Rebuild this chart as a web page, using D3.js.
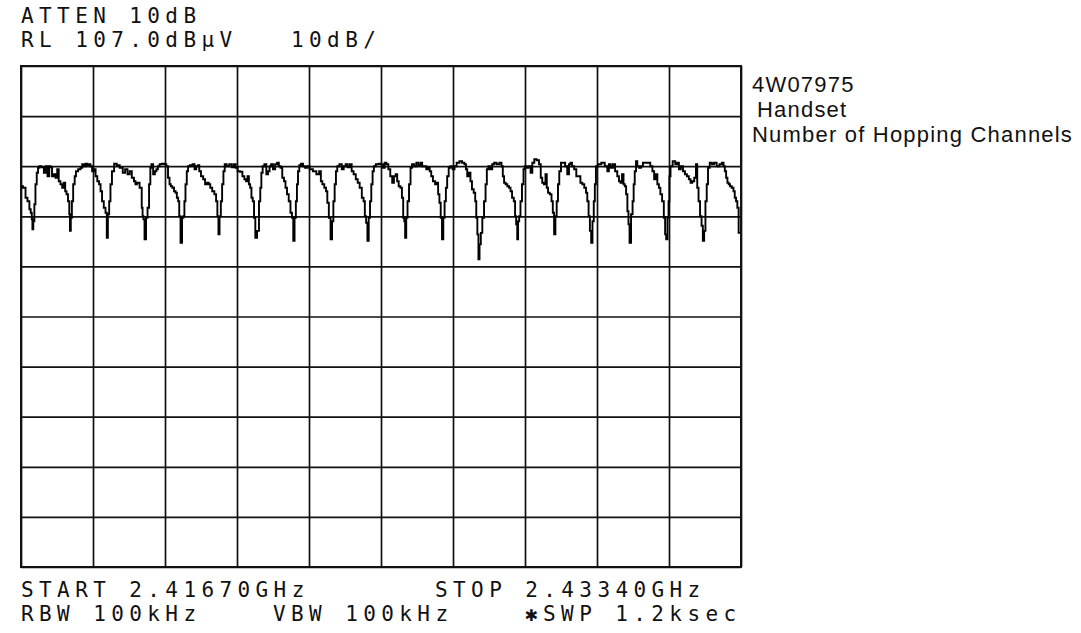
<!DOCTYPE html>
<html>
<head>
<meta charset="utf-8">
<script src="https://cdn.jsdelivr.net/npm/d3@7"></script>
<style>
  html, body { margin: 0; padding: 0; background: #fff; }
  svg { display: block; }
  .hp { font-family: "DejaVu Sans Mono", "Liberation Mono", monospace; font-size: 21px; fill: #111; letter-spacing: 5.4px; }
  .note { font-family: "Liberation Sans", Arial, sans-serif; font-size: 22px; fill: #111; letter-spacing: 1.2px; }
</style>
</head>
<body>
<script>
// Analyzer settings
const START_MHZ = 2416.7;
const STOP_MHZ = 2433.4;
const REF_LEVEL_DBUV = 107;
const DB_PER_DIV = 10;
const DIVISIONS = 10;

// Screen annotations
const headerTexts = ["ATTEN 10dB", "RL 107.0dBµV", "10dB/"];
const footerTexts = ["START 2.41670GHz", "STOP 2.43340GHz", "RBW 100kHz", "VBW 100kHz", "✱SWP 1.2ksec"];
const noteTexts = ["4W07975", "Handset", "Number of Hopping Channels"];

// Max-hold trace: [frequency MHz, level dBµV]
const trace = [
  [2416.70,83.0],[2416.79,82.7],[2416.82,80.7],[2416.88,80.0],[2416.91,78.4],[2416.94,77.7],[2416.96,76.4],[2416.97,74.4],
  [2417.00,76.0],[2417.02,79.4],[2417.05,83.4],[2417.08,85.7],[2417.11,86.7],[2417.14,87.0],[2417.21,86.8],[2417.25,85.7],
  [2417.29,87.0],[2417.34,85.0],[2417.37,87.0],[2417.40,86.8],[2417.44,85.0],[2417.48,85.4],[2417.52,84.7],[2417.56,86.4],
  [2417.59,84.0],[2417.64,83.4],[2417.67,82.7],[2417.71,83.7],[2417.74,82.0],[2417.77,81.4],[2417.81,80.0],[2417.83,77.4],
  [2417.84,74.1],[2417.87,76.7],[2417.89,80.0],[2417.93,83.4],[2417.96,85.0],[2417.99,86.0],[2418.06,86.4],[2418.10,86.7],
  [2418.14,87.4],[2418.18,87.0],[2418.22,87.5],[2418.25,87.2],[2418.29,87.4],[2418.33,87.0],[2418.37,86.0],[2418.41,86.4],
  [2418.45,85.0],[2418.49,84.0],[2418.53,83.4],[2418.56,82.0],[2418.60,80.0],[2418.64,78.7],[2418.68,77.7],[2418.70,72.7],
  [2418.73,77.4],[2418.76,80.0],[2418.79,83.4],[2418.83,86.0],[2418.89,87.5],[2418.95,87.2],[2419.03,86.7],[2419.09,85.7],
  [2419.14,86.4],[2419.20,85.4],[2419.24,86.0],[2419.30,84.7],[2419.34,84.0],[2419.37,83.4],[2419.41,83.7],[2419.49,82.7],
  [2419.51,78.7],[2419.53,77.0],[2419.55,76.4],[2419.58,72.4],[2419.62,76.7],[2419.65,78.7],[2419.69,83.4],[2419.71,86.7],
  [2419.74,87.4],[2419.79,85.4],[2419.82,86.0],[2419.86,86.4],[2419.89,87.0],[2419.94,87.4],[2419.99,87.5],[2420.05,87.4],
  [2420.09,87.0],[2420.13,84.7],[2420.16,83.4],[2420.19,83.0],[2420.23,82.7],[2420.27,82.0],[2420.30,81.7],[2420.33,80.7],
  [2420.36,80.0],[2420.38,77.0],[2420.42,71.7],[2420.45,76.7],[2420.48,77.0],[2420.50,80.0],[2420.53,83.4],[2420.56,86.0],
  [2420.59,87.0],[2420.65,87.2],[2420.71,87.4],[2420.74,86.4],[2420.79,87.0],[2420.82,87.2],[2420.85,86.0],[2420.90,85.0],
  [2420.95,84.4],[2420.99,83.4],[2421.04,83.7],[2421.07,83.4],[2421.11,82.7],[2421.16,82.0],[2421.21,81.4],[2421.24,80.0],
  [2421.27,77.0],[2421.29,73.4],[2421.32,77.0],[2421.35,80.0],[2421.38,83.4],[2421.41,86.0],[2421.44,87.4],[2421.50,87.0],
  [2421.56,87.4],[2421.62,86.8],[2421.66,87.4],[2421.70,86.7],[2421.75,86.0],[2421.81,85.9],[2421.86,85.0],[2421.90,84.4],
  [2421.94,84.0],[2421.97,85.0],[2422.00,83.4],[2422.03,82.7],[2422.06,80.7],[2422.09,80.0],[2422.12,76.7],[2422.15,72.7],
  [2422.20,74.1],[2422.24,80.0],[2422.26,82.7],[2422.29,85.7],[2422.32,87.0],[2422.37,87.4],[2422.41,85.4],[2422.45,86.0],
  [2422.48,87.0],[2422.52,87.4],[2422.57,86.4],[2422.62,87.4],[2422.66,87.7],[2422.70,87.0],[2422.74,86.7],[2422.78,84.7],
  [2422.82,84.0],[2422.85,82.7],[2422.89,81.4],[2422.93,80.0],[2422.97,77.7],[2423.00,76.7],[2423.03,72.1],[2423.06,76.7],
  [2423.09,80.0],[2423.11,83.4],[2423.14,86.0],[2423.17,87.2],[2423.22,87.5],[2423.26,87.0],[2423.32,86.7],[2423.36,87.0],
  [2423.43,86.4],[2423.51,86.0],[2423.59,85.4],[2423.64,86.0],[2423.67,84.0],[2423.71,83.4],[2423.76,82.7],[2423.79,82.0],
  [2423.82,79.7],[2423.86,76.7],[2423.90,72.4],[2423.93,76.0],[2423.96,80.0],[2423.99,83.4],[2424.02,86.0],[2424.05,87.0],
  [2424.12,87.4],[2424.16,86.4],[2424.21,87.0],[2424.25,87.4],[2424.30,86.8],[2424.35,87.4],[2424.39,86.0],[2424.44,85.4],
  [2424.49,84.4],[2424.53,83.7],[2424.58,82.7],[2424.63,80.7],[2424.66,80.0],[2424.69,77.0],[2424.72,75.7],[2424.75,72.1],
  [2424.78,76.7],[2424.81,80.0],[2424.84,83.4],[2424.87,86.0],[2424.90,87.0],[2424.96,87.4],[2425.03,87.5],[2425.06,87.4],
  [2425.12,86.7],[2425.15,87.7],[2425.20,87.4],[2425.24,86.4],[2425.29,85.0],[2425.33,83.7],[2425.37,85.0],[2425.41,85.4],
  [2425.44,84.0],[2425.48,83.0],[2425.52,82.7],[2425.55,80.7],[2425.58,76.7],[2425.60,76.0],[2425.62,72.7],[2425.65,76.7],
  [2425.68,80.0],[2425.72,83.4],[2425.75,86.7],[2425.79,87.4],[2425.85,87.0],[2425.89,87.7],[2425.95,87.2],[2425.99,87.7],
  [2426.02,87.0],[2426.08,87.0],[2426.12,86.4],[2426.16,86.7],[2426.20,86.0],[2426.23,85.0],[2426.28,84.0],[2426.33,83.4],
  [2426.36,83.7],[2426.39,81.4],[2426.42,79.7],[2426.45,76.7],[2426.48,72.4],[2426.51,76.7],[2426.54,80.0],[2426.57,82.7],
  [2426.60,85.0],[2426.64,86.7],[2426.68,87.0],[2426.74,86.4],[2426.77,87.0],[2426.84,87.7],[2426.90,88.0],[2426.96,87.7],
  [2427.01,87.4],[2427.03,86.4],[2427.07,85.0],[2427.11,85.7],[2427.14,84.0],[2427.18,82.4],[2427.22,81.7],[2427.25,80.0],
  [2427.27,76.7],[2427.30,73.4],[2427.32,68.4],[2427.35,71.4],[2427.38,73.7],[2427.42,76.7],[2427.46,80.0],[2427.49,83.4],
  [2427.52,86.4],[2427.56,87.0],[2427.61,86.4],[2427.65,87.4],[2427.70,87.7],[2427.76,87.4],[2427.83,87.7],[2427.86,87.0],
  [2427.89,85.0],[2427.92,83.7],[2427.96,83.4],[2428.00,83.0],[2428.04,82.7],[2428.07,82.0],[2428.11,80.7],[2428.15,80.0],
  [2428.17,77.0],[2428.20,75.4],[2428.22,72.4],[2428.24,76.0],[2428.27,77.0],[2428.30,80.0],[2428.34,83.4],[2428.37,86.4],
  [2428.40,87.0],[2428.44,86.7],[2428.50,87.0],[2428.54,85.7],[2428.58,87.7],[2428.63,88.4],[2428.69,88.2],[2428.74,87.4],
  [2428.77,84.7],[2428.81,83.7],[2428.85,83.4],[2428.88,85.4],[2428.91,82.7],[2428.94,81.7],[2428.99,81.4],[2429.02,80.0],
  [2429.05,77.7],[2429.08,73.4],[2429.11,77.0],[2429.14,80.0],[2429.17,83.4],[2429.20,86.0],[2429.25,87.7],[2429.29,87.7],
  [2429.35,87.0],[2429.39,85.4],[2429.43,87.4],[2429.46,87.7],[2429.50,87.0],[2429.56,86.4],[2429.60,85.0],[2429.65,85.0],
  [2429.70,83.7],[2429.74,83.4],[2429.79,82.7],[2429.82,81.7],[2429.85,80.0],[2429.88,77.0],[2429.91,74.1],[2429.94,71.7],
  [2429.97,76.0],[2430.00,80.0],[2430.02,83.4],[2430.05,87.0],[2430.12,87.4],[2430.20,87.7],[2430.28,87.0],[2430.32,86.0],
  [2430.35,87.4],[2430.41,86.7],[2430.45,87.4],[2430.51,86.0],[2430.55,85.0],[2430.59,84.0],[2430.62,83.7],[2430.66,85.4],
  [2430.69,83.4],[2430.72,83.0],[2430.75,81.4],[2430.78,78.0],[2430.80,75.4],[2430.83,71.7],[2430.87,77.4],[2430.90,80.0],
  [2430.92,83.4],[2430.95,86.0],[2430.98,88.0],[2431.01,87.0],[2431.06,86.7],[2431.10,87.0],[2431.15,87.7],[2431.21,87.7],
  [2431.27,87.7],[2431.32,87.0],[2431.37,86.0],[2431.40,84.4],[2431.44,85.4],[2431.48,83.4],[2431.51,82.7],[2431.55,81.4],
  [2431.59,80.0],[2431.63,76.7],[2431.65,73.4],[2431.68,72.4],[2431.71,76.7],[2431.73,80.0],[2431.75,85.0],[2431.78,87.0],
  [2431.85,88.0],[2431.90,87.4],[2431.94,87.7],[2431.98,86.4],[2432.03,87.0],[2432.08,86.0],[2432.12,85.4],[2432.17,85.0],
  [2432.21,84.4],[2432.25,83.7],[2432.29,84.0],[2432.34,84.7],[2432.37,87.4],[2432.40,82.7],[2432.43,80.0],[2432.47,77.0],
  [2432.50,75.1],[2432.53,72.1],[2432.56,74.1],[2432.59,80.0],[2432.62,83.4],[2432.65,86.7],[2432.70,87.7],[2432.75,87.4],
  [2432.80,87.7],[2432.87,87.0],[2432.93,87.4],[2432.98,87.7],[2433.01,87.0],[2433.04,86.0],[2433.07,84.7],[2433.10,83.7],
  [2433.13,83.4],[2433.16,83.0],[2433.21,82.7],[2433.24,82.0],[2433.27,80.7],[2433.30,80.0],[2433.33,78.7],[2433.36,73.7],
  [2433.40,73.7]
];

const W = 1081, H = 633;
const plot = { left: 21, right: 741, top: 66, bottom: 567 };

const svg = d3.select("body").append("svg").attr("width", W).attr("height", H);

const x = d3.scaleLinear().domain([START_MHZ, STOP_MHZ]).range([plot.left, plot.right]);
const y = d3.scaleLinear()
  .domain([REF_LEVEL_DBUV - DB_PER_DIV * DIVISIONS, REF_LEVEL_DBUV])
  .range([plot.bottom, plot.top]);

const freqGrid = d3.range(DIVISIONS + 1).map(i => START_MHZ + (STOP_MHZ - START_MHZ) * i / DIVISIONS);
const levelGrid = d3.range(DIVISIONS + 1).map(i => REF_LEVEL_DBUV - DB_PER_DIV * i);

// graticule
svg.append("g")
  .attr("transform", `translate(0,${plot.bottom})`)
  .call(d3.axisBottom(x).tickValues(freqGrid).tickSize(-(plot.bottom - plot.top)).tickFormat(""))
  .call(g => g.select(".domain").remove())
  .call(g => g.selectAll("line").attr("stroke", "#111").attr("stroke-width", 1.7));

svg.append("g")
  .attr("transform", `translate(${plot.left},0)`)
  .call(d3.axisLeft(y).tickValues(levelGrid).tickSize(-(plot.right - plot.left)).tickFormat(""))
  .call(g => g.select(".domain").remove())
  .call(g => g.selectAll("line").attr("stroke", "#111").attr("stroke-width", 1.7));

svg.append("rect")
  .attr("x", plot.left).attr("y", plot.top)
  .attr("width", plot.right - plot.left).attr("height", plot.bottom - plot.top)
  .attr("fill", "none").attr("stroke", "#111").attr("stroke-width", 2);

// trace
const line = d3.line().x(d => x(d[0])).y(d => y(d[1])).curve(d3.curveStep);
svg.append("path")
  .datum(trace)
  .attr("d", line)
  .attr("fill", "none")
  .attr("stroke", "#000")
  .attr("stroke-width", 1.9)
  .attr("stroke-linejoin", "miter");

// instrument text, laid out on a fixed character grid
const CHAR_W = 18, TEXT_X0 = 21;
const col = c => TEXT_X0 + c * CHAR_W;

const hp = svg.append("g").attr("class", "hp");
hp.append("text").attr("x", col(0)).attr("y", 23).text(headerTexts[0]);
hp.append("text").attr("x", col(0)).attr("y", 47).text(headerTexts[1]);
hp.append("text").attr("x", col(15)).attr("y", 47).text(headerTexts[2]);

hp.append("text").attr("x", col(0)).attr("y", 597).text(footerTexts[0]);
hp.append("text").attr("x", col(23)).attr("y", 597).text(footerTexts[1]);
hp.append("text").attr("x", col(0)).attr("y", 621).text(footerTexts[2]);
hp.append("text").attr("x", col(14)).attr("y", 621).text(footerTexts[3]);
hp.append("text").attr("x", col(28)).attr("y", 621).text(footerTexts[4]);

// test notes beside the graticule
const notes = svg.append("g").attr("class", "note");
notes.append("text").attr("x", 752).attr("y", 92).text(noteTexts[0]);
notes.append("text").attr("x", 757).attr("y", 117).text(noteTexts[1]);
notes.append("text").attr("x", 752).attr("y", 142).text(noteTexts[2]);
</script>
</body>
</html>
